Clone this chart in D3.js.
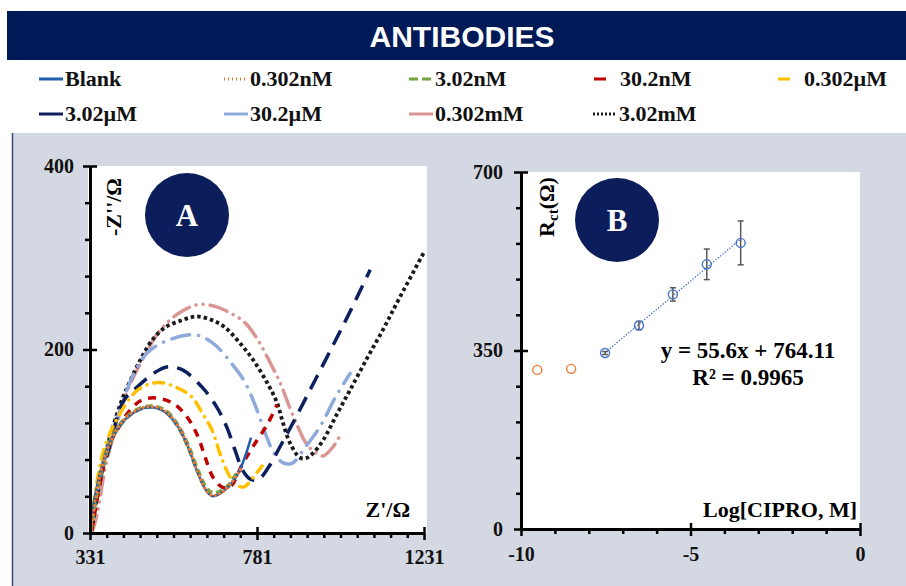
<!DOCTYPE html>
<html>
<head>
<meta charset="utf-8">
<script src="https://cdn.jsdelivr.net/npm/d3@7"></script>
<style>
  body { margin: 0; background: #fff; }
  svg text { font-family: "Liberation Serif", "Times New Roman", serif; font-weight: bold; }
</style>
</head>
<body>
<svg id="chart" width="906" height="586"></svg>
<script>
// series names in legend order
const seriesNames = ['Blank', '0.302nM', '3.02nM', '30.2nM', '0.302\u00b5M', '3.02\u00b5M', '30.2\u00b5M', '0.302mM', '3.02mM'];

// Nyquist points: [Z' (ohm), -Z'' (ohm)]
const zBlank = [[331, 5], [344, 39], [363, 72], [385, 99], [417, 120], [452, 132], [493, 137], [533, 132], [568, 116], [595, 94], [622, 65], [646, 45], [662, 40], [695, 47], [730, 65], [765, 104]];
const z0302nM = [[333, 0], [345, 35], [362, 70], [385, 98], [417, 121], [452, 133], [493, 138], [533, 133], [568, 117], [595, 95], [622, 66], [645, 46], [660, 41], [690, 45], [738, 70]];
const z302nM = [[332, 2], [346, 38], [364, 72], [386, 100], [418, 121], [453, 133], [494, 138], [534, 133], [569, 116], [596, 94], [623, 66], [647, 47], [665, 43], [700, 50], [732, 68]];
const z30_2nM = [[336, 3], [358, 54], [380, 94], [407, 114], [433, 131], [471, 145], [514, 147], [560, 140], [595, 125], [622, 105], [641, 83], [662, 61], [687, 50], [708, 50], [743, 76], [770, 94], [811, 120], [835, 140]];
const z0302uM = [[331, 3], [352, 61], [371, 94], [406, 126], [460, 156], [514, 164], [568, 158], [606, 148], [633, 131], [660, 112], [687, 80], [714, 58], [743, 50], [781, 66], [795, 73]];
const z302uM = [[331, 3], [358, 58], [385, 96], [420, 143], [458, 159], [506, 175], [538, 181], [579, 178], [633, 159], [673, 137], [700, 115], [722, 90], [743, 68], [762, 59], [784, 58], [811, 71], [843, 94], [878, 120], [924, 156], [970, 192], [1024, 235], [1086, 287]];
const z30_2uM = [[331, 3], [358, 60], [385, 101], [412, 134], [447, 172], [487, 197], [541, 210], [614, 216], [662, 207], [716, 183], [749, 164], [781, 134], [803, 109], [822, 91], [849, 77], [875, 76], [910, 93], [951, 116], [991, 147], [1032, 174]];
const z0302mM = [[336, 0], [350, 20], [371, 69], [398, 112], [433, 156], [479, 194], [520, 221], [568, 239], [622, 249], [668, 247], [708, 240], [749, 229], [784, 210], [816, 186], [843, 164], [870, 136], [892, 115], [913, 98], [937, 88], [959, 84], [986, 94], [1010, 110]];
const z302mM = [[336, 3], [352, 44], [371, 83], [390, 112], [417, 145], [444, 170], [471, 192], [498, 210], [533, 224], [579, 232], [619, 236], [660, 232], [695, 224], [735, 207], [770, 189], [808, 164], [835, 142], [851, 120], [870, 98], [897, 82], [916, 82], [932, 87], [959, 101], [997, 130], [1032, 156], [1077, 190], [1121, 222], [1166, 257], [1231, 306]];

// panel A axes
const zReTicks = [331, 781, 1231];
const zImTicks = [0, 200, 400];

// panel B: calibration
const logConc = [-9.52, -8.52, -7.52, -6.52, -5.52, -4.52, -3.52];
const rctValues = [312, 314, 345, 399, 460, 519, 561];
const rctErrors = [0, 0, 3, 8, 13, 30, 43];
const inLinearRange = [false, false, true, true, true, true, true];
const fitSlope = 55.6;
const fitIntercept = 764.11;
const logTicks = [-10, -5, 0];
const rctTicks = [0, 350, 700];

const nyquist = [zBlank, z0302nM, z302nM, z30_2nM, z0302uM, z302uM, z30_2uM, z0302mM, z302mM];

const styles = [
  { color: '#1f5fae', width: 2.5, dash: null, cap: 'butt', legendDash: null },
  { color: '#f07a33', width: 3, dash: '0.1 4.5', cap: 'round', legendDash: '1 3' },
  { color: '#76a340', width: 4.5, dash: '7 4', cap: 'butt', legendDash: '9 4' },
  { color: '#c00000', width: 3.5, dash: '8 7', cap: 'butt', legendDash: '12 100' },
  { color: '#ffc000', width: 3.5, dash: '10 7 0.1 7', cap: 'round', legendDash: '12 100' },
  { color: '#0c1f5e', width: 3.5, dash: '16 9', cap: 'butt', legendDash: null },
  { color: '#8eaadb', width: 3.5, dash: '18 9 0.1 9', cap: 'round', legendDash: null },
  { color: '#da9694', width: 3.5, dash: '18 7 0.1 7 0.1 7', cap: 'round', legendDash: null },
  { color: '#1a1a1a', width: 3.8, dash: '3.5 3', cap: 'butt', legendDash: '2 2' }
];

const svg = d3.select('#chart');
const navy = '#0b1d5a';

// banner
svg.append('rect').attr('x', 7).attr('y', 11).attr('width', 899).attr('height', 49).attr('fill', '#001a57');
svg.append('text')
  .attr('x', 462).attr('y', 47)
  .attr('text-anchor', 'middle')
  .style('font-family', '"Liberation Sans", Arial, sans-serif')
  .style('font-size', '30px')
  .attr('fill', '#fff')
  .text('ANTIBODIES');

// legend, two rows
const legendTextX = [65, 250, 435, 620, 804, 65, 250, 435, 619];
const legendRowY = [79, 114];
seriesNames.forEach((name, i) => {
  const row = i < 5 ? 0 : 1;
  const s = styles[i];
  const tx = legendTextX[i];
  svg.append('line')
    .attr('x1', tx - 26).attr('x2', tx - 2)
    .attr('y1', legendRowY[row]).attr('y2', legendRowY[row])
    .attr('stroke', s.color)
    .attr('stroke-width', 3)
    .attr('stroke-dasharray', s.legendDash)
    .attr('stroke-linecap', 'butt');
  svg.append('text')
    .attr('x', tx).attr('y', legendRowY[row] + 7)
    .style('font-size', '22px')
    .attr('fill', '#111')
    .text(name);
});

// grey panel
svg.append('rect').attr('x', 12).attr('y', 133).attr('width', 894).attr('height', 453).attr('fill', '#d4d8e3');
svg.append('line').attr('x1', 12.5).attr('x2', 12.5).attr('y1', 133).attr('y2', 586).attr('stroke', '#3a4a78').attr('stroke-width', 1.5);

function drawAxes(g, x, y, xMinor, yMinor, xMajor, yMajor, xPad, yPad) {
  const xAxis = g.append('g')
    .attr('transform', `translate(0,${y.range()[0]})`)
    .call(d3.axisBottom(x).tickValues(xMinor).tickSize(5).tickSizeOuter(0).tickPadding(xPad)
      .tickFormat(d => xMajor.some(m => Math.abs(m - d) < 1e-6) ? String(d) : ''));
  const yAxis = g.append('g')
    .attr('transform', `translate(${x.range()[0]},0)`)
    .call(d3.axisLeft(y).tickValues(yMinor).tickSize(5).tickSizeOuter(0).tickPadding(yPad)
      .tickFormat(d => yMajor.includes(d) ? d : ''));
  [xAxis, yAxis].forEach(a => {
    a.select('.domain').attr('stroke', '#000').attr('stroke-width', 3);
    a.selectAll('.tick line').attr('stroke', '#000').attr('stroke-width', 2.5);
    a.selectAll('.tick text').style('font-size', '20px').attr('fill', '#111');
  });
  xAxis.selectAll('.tick').filter(d => xMajor.some(m => Math.abs(m - d) < 1e-6)).select('line').attr('y1', -6).attr('y2', 7);
  yAxis.selectAll('.tick').filter(d => yMajor.includes(d)).select('line').attr('x1', 7).attr('x2', -7);
}

// ---------- panel A ----------
const xA = d3.scaleLinear().domain([331, 1231]).range([90, 424]);
const yA = d3.scaleLinear().domain([0, 400]).range([533, 166]);
const gA = svg.append('g');

gA.append('rect')
  .attr('x', xA.range()[0] - 2).attr('y', yA.range()[1])
  .attr('width', xA.range()[1] - xA.range()[0] + 5).attr('height', yA.range()[0] - yA.range()[1])
  .attr('fill', '#fff');

svg.append('clipPath').attr('id', 'clipA')
  .append('rect')
  .attr('x', xA.range()[0]).attr('y', yA.range()[1])
  .attr('width', xA.range()[1] - xA.range()[0] + 4).attr('height', yA.range()[0] - yA.range()[1]);

const line = d3.line()
  .x(d => xA(d[0]))
  .y(d => yA(d[1]))
  .curve(d3.curveCatmullRom.alpha(0.5));

const drawOrder = [7, 8, 6, 5, 4, 3, 2, 0, 1];
gA.append('g')
  .attr('clip-path', 'url(#clipA)')
  .selectAll('path')
  .data(drawOrder)
  .enter()
  .append('path')
  .attr('d', i => line(nyquist[i]))
  .attr('fill', 'none')
  .attr('stroke', i => styles[i].color)
  .attr('stroke-width', i => styles[i].width)
  .attr('stroke-dasharray', i => styles[i].dash)
  .attr('stroke-linecap', i => styles[i].cap);

drawAxes(gA, xA, yA, d3.range(331, 1232, 45), d3.range(0, 401, 40), zReTicks, zImTicks, 12, 11);

gA.append('text')
  .attr('x', 410).attr('y', 517)
  .attr('text-anchor', 'end')
  .style('font-size', '22px')
  .text("Z'/\u03a9");
gA.append('text')
  .attr('transform', 'translate(121,207) rotate(-90)')
  .attr('text-anchor', 'middle')
  .style('font-size', '22px')
  .text("-Z''/\u03a9");

gA.append('circle').attr('cx', 187).attr('cy', 215).attr('r', 42).attr('fill', navy);
gA.append('text')
  .attr('x', 187).attr('y', 226)
  .attr('text-anchor', 'middle')
  .style('font-size', '31px')
  .attr('fill', '#fff')
  .text('A');

// ---------- panel B ----------
const xB = d3.scaleLinear().domain([-10, 0]).range([521, 860]);
const yB = d3.scaleLinear().domain([0, 700]).range([529, 172]);
const gB = svg.append('g');

gB.append('rect')
  .attr('x', xB.range()[0]).attr('y', yB.range()[1])
  .attr('width', xB.range()[1] - xB.range()[0]).attr('height', yB.range()[0] - yB.range()[1])
  .attr('fill', '#fff');

// linear fit over the calibration range
const fitX = logConc.filter((d, i) => inLinearRange[i]);
const fitEnds = [d3.min(fitX), d3.max(fitX)];
gB.append('line')
  .attr('x1', xB(fitEnds[0])).attr('y1', yB(fitSlope * fitEnds[0] + fitIntercept))
  .attr('x2', xB(fitEnds[1])).attr('y2', yB(fitSlope * fitEnds[1] + fitIntercept))
  .attr('stroke', '#4472c4')
  .attr('stroke-width', 1.2)
  .attr('stroke-dasharray', '1.5 1.5');

const points = logConc.map((x, i) => ({ x, y: rctValues[i], err: rctErrors[i], lin: inLinearRange[i] }));

const errG = gB.append('g').selectAll('g')
  .data(points.filter(d => d.err > 0))
  .enter()
  .append('g')
  .attr('stroke', '#595959')
  .attr('stroke-width', 1.5);
errG.append('line')
  .attr('x1', d => xB(d.x)).attr('x2', d => xB(d.x))
  .attr('y1', d => yB(d.y - d.err)).attr('y2', d => yB(d.y + d.err));
errG.append('line')
  .attr('x1', d => xB(d.x) - 3).attr('x2', d => xB(d.x) + 3)
  .attr('y1', d => yB(d.y + d.err)).attr('y2', d => yB(d.y + d.err));
errG.append('line')
  .attr('x1', d => xB(d.x) - 3).attr('x2', d => xB(d.x) + 3)
  .attr('y1', d => yB(d.y - d.err)).attr('y2', d => yB(d.y - d.err));

gB.append('g').selectAll('circle')
  .data(points)
  .enter()
  .append('circle')
  .attr('cx', d => xB(d.x))
  .attr('cy', d => yB(d.y))
  .attr('r', 4.5)
  .attr('fill', 'none')
  .attr('stroke', d => d.lin ? '#4472c4' : '#ed7d31')
  .attr('stroke-width', 1.4);

drawAxes(gB, xB, yB, d3.range(-10, 0.5, 1), d3.range(0, 701, 70), logTicks, rctTicks, 13, 13);

gB.append('text')
  .attr('x', 857).attr('y', 517)
  .attr('text-anchor', 'end')
  .style('font-size', '22px')
  .text('Log[CIPRO, M]');

const rctLabel = gB.append('text')
  .attr('transform', 'translate(554,207) rotate(-90)')
  .attr('text-anchor', 'middle')
  .style('font-size', '22px');
rctLabel.append('tspan').text('R');
rctLabel.append('tspan').attr('dy', 4).style('font-size', '15px').text('ct');
rctLabel.append('tspan').attr('dy', -4).text('(\u03a9)');

gB.append('text')
  .attr('x', 748).attr('y', 358)
  .attr('text-anchor', 'middle')
  .style('font-size', '23px')
  .text(`y = ${fitSlope}x + ${fitIntercept}`);
gB.append('text')
  .attr('x', 748).attr('y', 385)
  .attr('text-anchor', 'middle')
  .style('font-size', '23px')
  .text('R\u00b2 = 0.9965');

gB.append('circle').attr('cx', 617).attr('cy', 220).attr('r', 42).attr('fill', navy);
gB.append('text')
  .attr('x', 617).attr('y', 231)
  .attr('text-anchor', 'middle')
  .style('font-size', '31px')
  .attr('fill', '#fff')
  .text('B');
</script>
</body>
</html>
